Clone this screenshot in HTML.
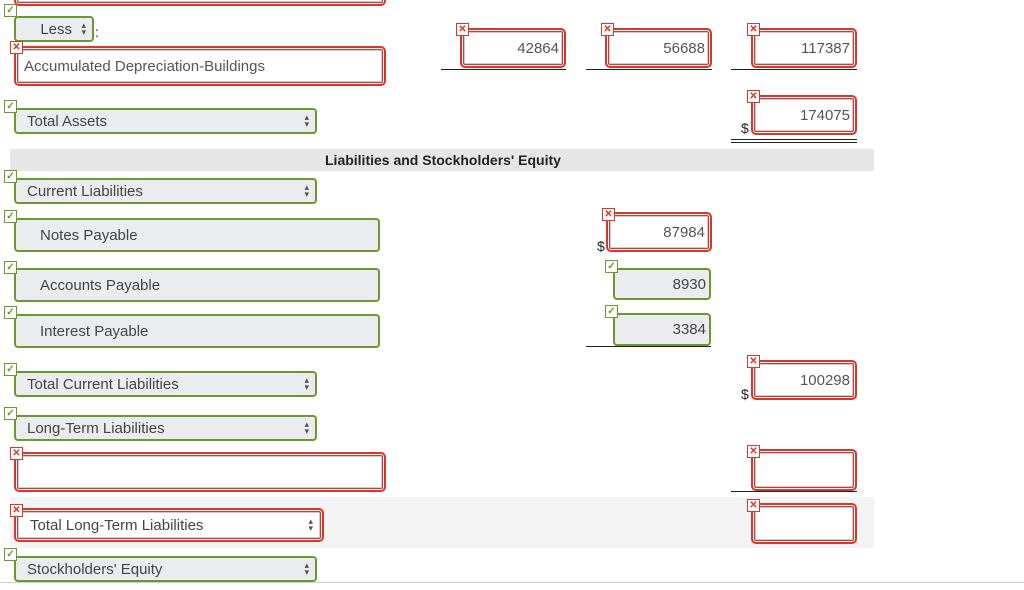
<!DOCTYPE html>
<html><head><meta charset="utf-8"><style>
body{margin:0;width:1024px;height:590px;position:relative;background:#fff;font-family:"Liberation Sans",sans-serif;overflow:hidden}
.a{position:absolute;box-sizing:border-box}
.g{border:2px solid #6a9a2d;border-radius:4px;background:#ebecef;color:#444;font-size:15px;padding-left:11px;display:flex;align-items:center}
.g.sel::after{content:"\25B4\A\25BE";white-space:pre;position:absolute;right:6px;top:50%;transform:translateY(-50%);font-size:9px;line-height:7px;color:#555}
.g.num{justify-content:flex-end;padding-right:3px;padding-left:0}
.r{border:2px solid #d8372b;border-radius:5px;box-shadow:inset 0 0 0 1px #fff,inset 0 0 0 2px #d8372b,inset 0 0 0 3px #ccc;background:#fff;color:#555;font-size:15px;display:flex;align-items:center}
.r.num{justify-content:flex-end;padding-right:5px}
.ic{width:13px;height:13px;background:#fff;font-size:10px;line-height:11px;text-align:center;font-weight:bold;z-index:2}
.ck{border:1px solid #6a9a2d;color:#6a9a2d}
.x{border:1px solid #d8372b;color:#d8372b}
.ln{height:0;border-top:1.5px solid #222}
.d{font-size:14px;color:#222}
</style></head><body>
<div class="a r" style="left:14px;top:-30px;width:372px;height:36px"></div>

<div class="a ic ck" style="left:4px;top:4px">✓</div>
<div class="a g" style="left:14px;top:16px;width:80px;height:26px;justify-content:flex-end;padding-right:20px">Less<span style="position:absolute;right:6px;font-size:9px;line-height:7px;white-space:pre;color:#555">▴
▾</span></div>
<div class="a d" style="left:95px;top:24px">:</div>
<div class="a ic x" style="left:10px;top:41px">✕</div>
<div class="a r" style="left:14px;top:46px;width:372px;height:40px;padding-left:8px">Accumulated Depreciation-Buildings</div>

<div class="a ic x" style="left:456px;top:23px">✕</div>
<div class="a r num" style="left:460px;top:28px;width:106px;height:40px">42864</div>
<div class="a ln" style="left:441px;top:69px;width:125px"></div>
<div class="a ic x" style="left:601px;top:23px">✕</div>
<div class="a r num" style="left:605px;top:28px;width:107px;height:40px">56688</div>
<div class="a ln" style="left:586px;top:69px;width:126px"></div>
<div class="a ic x" style="left:747px;top:23px">✕</div>
<div class="a r num" style="left:751px;top:28px;width:106px;height:40px">117387</div>
<div class="a ln" style="left:731px;top:69px;width:126px"></div>

<div class="a ic ck" style="left:4px;top:100px">✓</div>
<div class="a g sel" style="left:14px;top:108px;width:303px;height:26px">Total Assets</div>
<div class="a ic x" style="left:747px;top:90px">✕</div>
<div class="a r num" style="left:751px;top:95px;width:106px;height:40px">174075</div>
<div class="a d" style="left:741px;top:120px">$</div>
<div class="a ln" style="left:731px;top:139px;width:126px;border-top:1px solid #222"></div>
<div class="a ln" style="left:731px;top:142px;width:126px;border-top:1px solid #222"></div>

<div class="a" style="left:10px;top:149px;width:864px;height:22px;background:#e6e6e6"></div>
<div class="a" style="left:325px;top:152px;font-size:14px;font-weight:bold;color:#222">Liabilities and Stockholders' Equity</div>

<div class="a ic ck" style="left:4px;top:170px">✓</div>
<div class="a g sel" style="left:14px;top:178px;width:303px;height:26px">Current Liabilities</div>

<div class="a ic ck" style="left:4px;top:210px">✓</div>
<div class="a g" style="left:14px;top:218px;width:366px;height:34px;padding-left:24px">Notes Payable</div>
<div class="a ic x" style="left:602px;top:208px">✕</div>
<div class="a r num" style="left:606px;top:212px;width:106px;height:40px">87984</div>
<div class="a d" style="left:597px;top:238px">$</div>

<div class="a ic ck" style="left:4px;top:261px">✓</div>
<div class="a g" style="left:14px;top:268px;width:366px;height:34px;padding-left:24px">Accounts Payable</div>
<div class="a ic ck" style="left:605px;top:260px">✓</div>
<div class="a g num" style="left:613px;top:268px;width:98px;height:32px">8930</div>

<div class="a ic ck" style="left:4px;top:306px">✓</div>
<div class="a g" style="left:14px;top:314px;width:366px;height:34px;padding-left:24px">Interest Payable</div>
<div class="a ic ck" style="left:605px;top:305px">✓</div>
<div class="a g num" style="left:613px;top:313px;width:98px;height:33px">3384</div>
<div class="a ln" style="left:586px;top:346px;width:125px"></div>

<div class="a ic ck" style="left:4px;top:363px">✓</div>
<div class="a g sel" style="left:14px;top:371px;width:303px;height:26px">Total Current Liabilities</div>
<div class="a ic x" style="left:747px;top:355px">✕</div>
<div class="a r num" style="left:751px;top:360px;width:106px;height:40px">100298</div>
<div class="a d" style="left:741px;top:386px">$</div>

<div class="a ic ck" style="left:4px;top:407px">✓</div>
<div class="a g sel" style="left:14px;top:415px;width:303px;height:26px">Long-Term Liabilities</div>

<div class="a ic x" style="left:10px;top:447px">✕</div>
<div class="a r" style="left:14px;top:452px;width:372px;height:40px"></div>
<div class="a ic x" style="left:747px;top:445px">✕</div>
<div class="a r" style="left:751px;top:449px;width:106px;height:42px"></div>
<div class="a ln" style="left:731px;top:491px;width:126px"></div>

<div class="a" style="left:10px;top:497px;width:864px;height:51px;background:#f4f4f4"></div>
<div class="a ic x" style="left:10px;top:504px">✕</div>
<div class="a r" style="left:14px;top:508px;width:310px;height:34px;padding-left:14px;color:#444">Total Long-Term Liabilities<span style="position:absolute;right:9px;font-size:9px;line-height:7px;white-space:pre;color:#555">▴
▾</span></div>
<div class="a ic x" style="left:747px;top:499px">✕</div>
<div class="a r" style="left:751px;top:503px;width:106px;height:41px"></div>

<div class="a ic ck" style="left:4px;top:548px">✓</div>
<div class="a g sel" style="left:14px;top:556px;width:303px;height:26px">Stockholders' Equity</div>

<div class="a" style="left:0;top:582px;width:1024px;height:1px;background:#c8d0dc"></div>
</body></html>
